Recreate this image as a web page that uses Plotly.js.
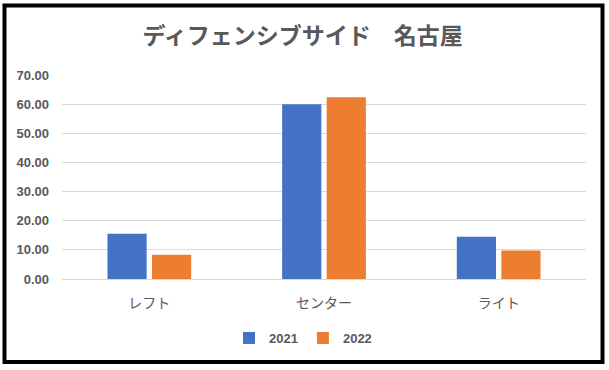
<!DOCTYPE html>
<html>
<head>
<meta charset="utf-8">
<script src="https://cdn.plot.ly/plotly-3.0.1.min.js"></script>
<style>
  html, body { margin: 0; padding: 0; background: #ffffff; }
  #chart { width: 609px; height: 370px; }
</style>
</head>
<body>
<div id="chart"></div>
<script>
const categories = ['レフト', 'センター', 'ライト'];
const series2021 = [15.5, 60.0, 14.5];
const series2022 = [8.3, 62.4, 9.8];
const seriesNames = ['2021', '2022'];
const yTicks = [0, 10, 20, 30, 40, 50, 60, 70];

const grey = '#595959';
const numFont = 'Liberation Sans, Arial, sans-serif';
const jpFont = 'Noto Sans CJK JP, sans-serif';

const traces = [
  { type: 'bar', name: seriesNames[0], x: categories, y: series2021,
    marker: { color: '#4472C4' }, hoverinfo: 'skip' },
  { type: 'bar', name: seriesNames[1], x: categories, y: series2022,
    marker: { color: '#ED7D31' }, hoverinfo: 'skip' }
];

// border positions in pixels converted to paper coordinates
const M = { l: 62, r: 23, t: 75, b: 91 };
const W = 609, H = 370;
const pw = W - M.l - M.r, ph = H - M.t - M.b;
const px = v => (v - M.l) / pw;
const py = v => (H - M.b - v) / ph;

const layout = {
  width: W, height: H,
  margin: M,
  paper_bgcolor: '#ffffff',
  plot_bgcolor: '#ffffff',
  showlegend: true,
  barmode: 'group',
  bargap: 0.49,
  bargroupgap: 0.12,
  title: {
    text: 'ディフェンシブサイド　名古屋',
    font: { family: jpFont, size: 23, color: grey, weight: 'bold' },
    x: 0.497, xref: 'container', xanchor: 'center',
    y: 1 - 36 / H, yref: 'container', yanchor: 'middle'
  },
  xaxis: {
    type: 'category',
    tickfont: { family: jpFont, size: 14, color: grey },
    showgrid: false, zeroline: false, showline: false,
    ticks: '', ticklabelstandoff: 14
  },
  yaxis: {
    range: [0, 70],
    tickvals: yTicks,
    tickformat: '.2f',
    tickfont: { family: numFont, size: 13, color: grey, weight: 'bold' },
    showgrid: true, gridcolor: '#D9D9D9', gridwidth: 1,
    zeroline: true, zerolinecolor: '#D9D9D9', zerolinewidth: 1,
    showline: false, ticks: '', ticklabelstandoff: 12
  },
  legend: {
    orientation: 'h',
    x: 303 / W, xref: 'container', xanchor: 'center',
    y: 1 - 338 / H, yref: 'container', yanchor: 'middle',
    font: { family: numFont, size: 13, color: grey, weight: 'bold' },
    itemwidth: 30,
    bgcolor: 'rgba(0,0,0,0)'
  },
  shapes: [{
    type: 'rect', xref: 'paper', yref: 'paper', layer: 'above',
    x0: px(4.5), x1: px(602.5), y0: py(362), y1: py(5.5),
    line: { color: '#000000', width: 4 }, fillcolor: 'rgba(0,0,0,0)'
  }]
};

Plotly.newPlot('chart', traces, layout, { staticPlot: true, displayModeBar: false });
</script>
</body>
</html>
